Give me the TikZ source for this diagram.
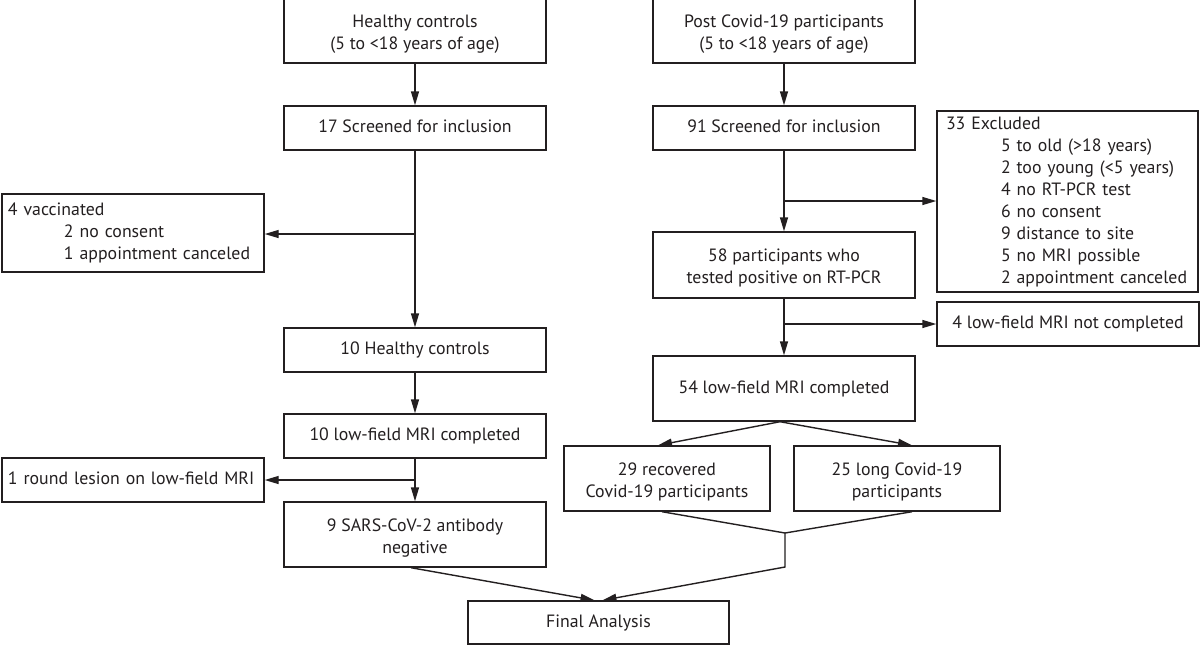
\documentclass[tikz,border=0pt]{standalone}
\usepackage{fontspec}
\setmainfont{PT Sans}
\usetikzlibrary{arrows.meta,calc}
\definecolor{lc}{RGB}{35,31,32}
\newcommand{\mystrut}{\rule[-2.5pt]{0pt}{9.5pt}}
\newcommand{\ts}{\rule{0pt}{10pt}}
\begin{document}
\begin{tikzpicture}[x=0.5pt,y=-0.5pt,
  box/.style={draw=lc,line width=0.7pt,rectangle,inner sep=0pt,align=center,font=\fontsize{8.9}{11}\selectfont,text=lc,
    execute at begin node={\mystrut},execute at end node={\mystrut}},
  lbox/.style={box,align=left},
  arr/.style={draw=lc,line width=0.7pt,-{Triangle[length=7pt,width=4pt]}},
  ln/.style={draw=lc,line width=0.7pt}]
\useasboundingbox (0,0) rectangle (1200,645);
\fill[white] (0,0) rectangle (1200,645);
% left column
\node[box,minimum width=131pt,minimum height=32.5pt] (hc) at (415,30.5) {\ts Healthy controls\\(5 to <18 years of age)\mystrut};
\node[box,minimum width=131pt,minimum height=22pt] (s17) at (415,128) {17 Screened for inclusion};
\node[lbox,minimum height=39pt,text width=125pt,inner xsep=3pt] (vac) at (133,233) {4 vaccinated\\\hspace*{28pt}2 no consent\\\hspace*{28pt}1 appointment canceled};
\node[box,minimum width=131pt,minimum height=22pt] (hc10) at (415,350) {10 Healthy controls};
\node[box,minimum width=131pt,minimum height=22pt] (lf10) at (415,436) {10 low-field MRI completed};
\node[lbox,minimum height=22pt,text width=125pt,inner xsep=3pt] (les) at (133,480) {1 round lesion on low-field MRI};
\node[box,minimum width=131pt,minimum height=32.5pt] (sars) at (415,534.5) {\ts 9 SARS-CoV-2 antibody\\negative\mystrut};
% right column
\node[box,minimum width=131pt,minimum height=32.5pt] (pc) at (784,30.5) {\ts Post Covid-19 participants\\(5 to <18 years of age)\mystrut};
\node[box,minimum width=131pt,minimum height=22pt] (s91) at (784,128) {91 Screened for inclusion};
\node[lbox,minimum height=90.5pt,text width=121.5pt,inner xsep=4.5pt] (exc) at (1067.5,201.5) {33 Excluded\\\hspace*{27.5pt}5 to old (>18 years)\\\hspace*{27.5pt}2 too young (<5 years)\\\hspace*{27.5pt}4 no RT-PCR test\\\hspace*{27.5pt}6 no consent\\\hspace*{27.5pt}9 distance to site\\\hspace*{27.5pt}5 no MRI possible\\\hspace*{27.5pt}2 appointment canceled};
\node[box,minimum width=131pt,minimum height=33pt] (p58) at (784,265) {\ts 58 participants who\\tested positive on RT-PCR\mystrut};
\node[box,minimum width=131pt,minimum height=22pt] (nc4) at (1068,324) {4 low-field MRI not completed};
\node[box,minimum width=131pt,minimum height=32.5pt] (m54) at (784,388.5) {54 low-field MRI completed};
\node[box,minimum width=103pt,minimum height=32.5pt] (r29) at (667,478.5) {\ts 29 recovered\\Covid-19 participants\mystrut};
\node[box,minimum width=103pt,minimum height=32.5pt] (l25) at (897,478.5) {\ts 25 long Covid-19\\participants\mystrut};
\node[box,minimum width=130.5pt,minimum height=21.5pt] (fin) at (598.5,622.5) {Final Analysis};
% connectors left
\draw[arr] (hc) -- (s17);
\draw[arr] (s17) -- (hc10);
\coordinate (b1) at (415,234);
\draw[arr] (b1) -- (vac.east|-b1);
\draw[arr] (hc10) -- (lf10);
\draw[arr] (lf10) -- (sars);
\coordinate (b4) at (415,480);
\draw[arr] (b4) -- (les.east|-b4);
% connectors right
\draw[arr] (pc) -- (s91);
\draw[arr] (s91) -- (p58);
\coordinate (b2) at (784,201);
\draw[arr] (b2) -- (exc.west|-b2);
\draw[arr] (p58) -- (m54);
\coordinate (b3) at (784,324);
\draw[arr] (b3) -- (nc4.west|-b3);
\draw[arr] ($(m54.south)+(-4,0)$) -- ($(r29.north)+(-9,0)$);
\draw[arr] ($(m54.south)+(-4,0)$) -- ($(l25.north)+(15,0)$);
\coordinate (mg) at (785,533);
\coordinate (md) at (785,567);
\draw[ln] ($(r29.south)+(-5,0)$) -- (mg);
\draw[ln] ($(l25.south)+(15,0)$) -- (mg);
\draw[arr] (mg) -- (md) -- ($(fin.north)+(4,0)$);
\draw[arr] ($(sars.south)+(-4,0)$) -- ($(fin.north)+(-4,0)$);
\end{tikzpicture}
\end{document}
